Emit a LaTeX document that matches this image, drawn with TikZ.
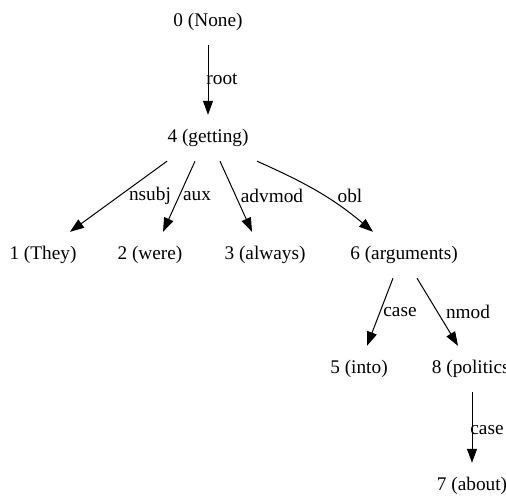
\documentclass[tikz,border=0pt]{standalone}
\usepackage{fontspec}
\setmainfont{Liberation Serif}
\usepackage{tikz}
\usetikzlibrary{arrows.meta, positioning}

\tikzset{
    word/.style={inner sep=0pt, minimum height=46pt, font=\fontsize{19.3}{23}\selectfont},
    dep/.style={-{Triangle[length=14pt, width=10pt]}, line width=1pt},
    rel/.style={font=\fontsize{19.3}{23}\selectfont}
}

\begin{document}
\begin{tikzpicture}[x=1pt, y=-1pt]
    \useasboundingbox[fill=white] (0,0) rectangle (506,498);

    % tokens
    \node[word] (n0) at (208,22) {0 (None)};
    \node[word] (n4) at (208,138) {4 (getting)};
    \node[word] (n1) at (43,255) {1 (They)};
    \node[word] (n2) at (150,255) {2 (were)};
    \node[word] (n3) at (265,255) {3 (always)};
    \node[word] (n6) at (404,255) {6 (arguments)};
    \node[word] (n5) at (359,369) {5 (into)};
    \node[word] (n8) at (474,369) {8 (politics)};
    \node[word] (n7) at (472,486) {7 (about)};

    % dependencies
    \draw[dep] (n0.south) -- (n4.north);
    \node[rel] (lroot) at (222,79) {root};

    \draw[dep] ([xshift=-41]n4.south) -- ([xshift=27]n1.north);
    \node[rel] (lnsubj) at (150,196) {nsubj};
    \draw[dep] ([xshift=-13]n4.south) -- ([xshift=13]n2.north);
    \node[rel] (laux) at (197,196) {aux};
    \draw[dep] ([xshift=12]n4.south) -- ([xshift=-13]n3.north);
    \node[rel] (ladvmod) at (272,196) {advmod};
    \draw[dep] ([xshift=49]n4.south) to[out=-24, in=140] ([xshift=-31]n6.north);
    \node[rel] (lobl) at (350,196) {obl};

    \draw[dep] ([xshift=-11]n6.south) -- ([xshift=8]n5.north);
    \node[rel] (lcase) at (400,312) {case};
    \draw[dep] ([xshift=13]n6.south) -- ([xshift=-16]n8.north);
    \node[rel] (lnmod) at (468,312) {nmod};

    \coordinate (n8out) at ([xshift=-2]n8.south);
    \draw[dep] (n8out) -- (n7.north -| n8out);
    \node[rel] (lcase2) at (487,430) {case};
\end{tikzpicture}
\end{document}
